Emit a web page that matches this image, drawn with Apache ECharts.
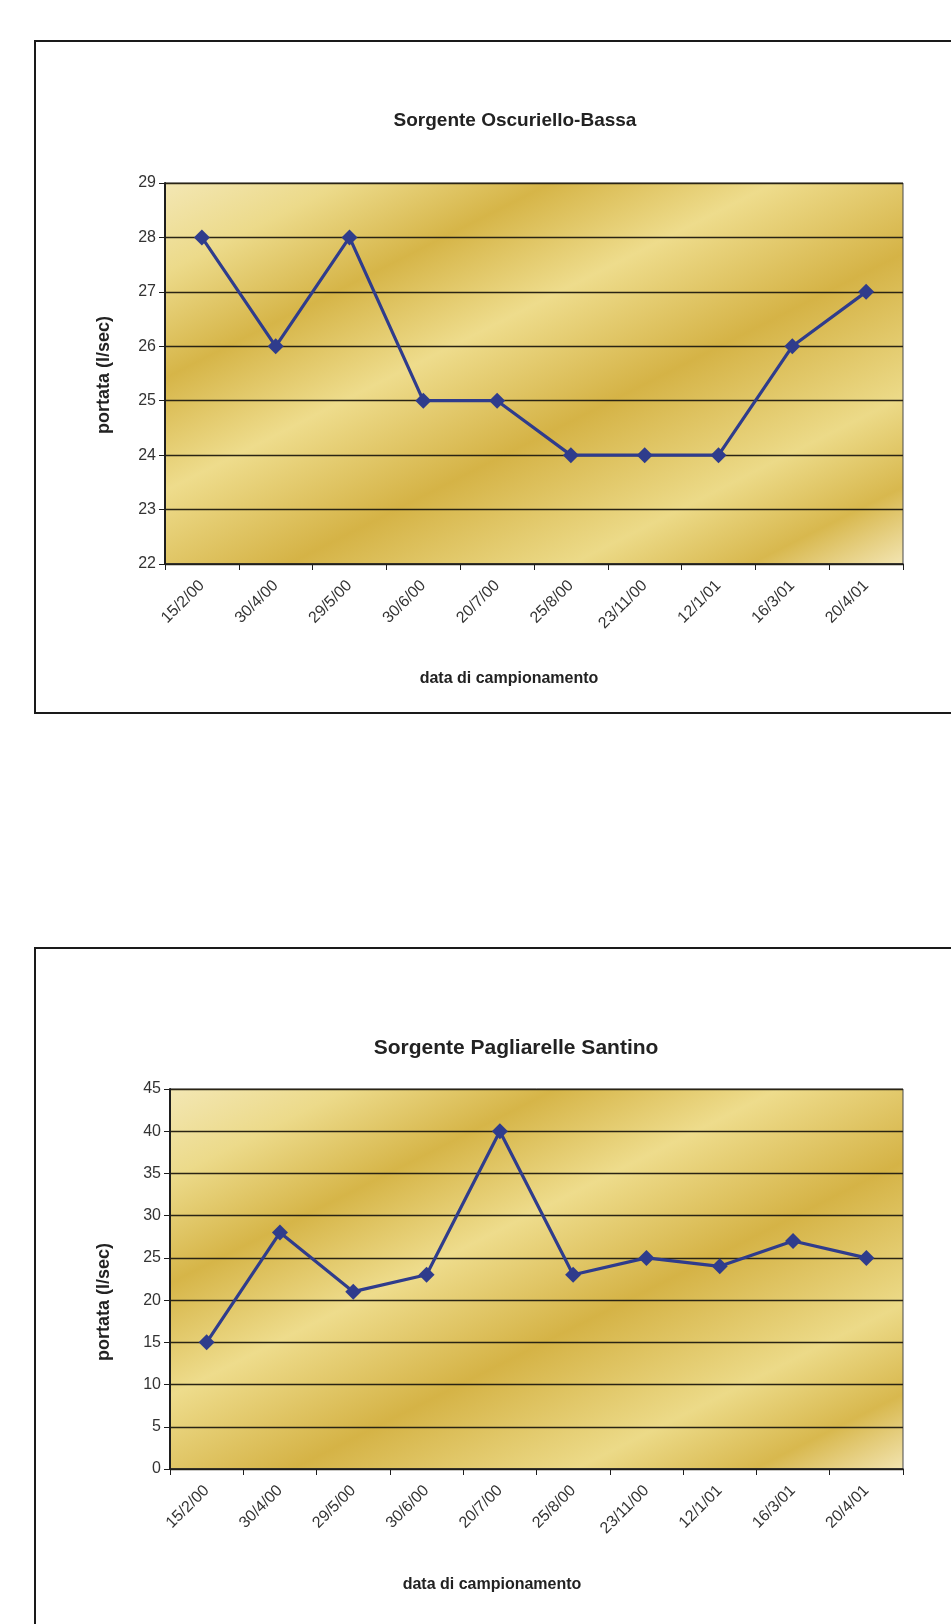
<!DOCTYPE html>
<html>
<head>
<meta charset="utf-8">
<script src="https://cdn.jsdelivr.net/npm/echarts@6/dist/echarts.min.js"></script>
<style>
  html, body { margin: 0; padding: 0; background: #ffffff; }
  #chart { width: 951px; height: 1624px; }
</style>
</head>
<body>
<div id="chart"></div>
<script>
// Sampling dates (shared by both springs)
const dates = ['15/2/00', '30/4/00', '29/5/00', '30/6/00', '20/7/00', '25/8/00', '23/11/00', '12/1/01', '16/3/01', '20/4/01'];

// Discharge, l/sec
const oscurielloBassa = [28, 26, 28, 25, 25, 24, 24, 24, 26, 27];
const pagliarelleSantino = [15, 28, 21, 23, 40, 23, 25, 24, 27, 25];

// Text
const title1 = 'Sorgente Oscuriello-Bassa';
const title2 = 'Sorgente Pagliarelle Santino';
const xTitle = 'data di campionamento';
const yTitle = 'portata (l/sec)';

const FONT = '"Liberation Sans", Arial, sans-serif';
const LINE = '#2F3C8C';

// Diagonal gold bands for the plot area
function goldFill() {
  return {
    type: 'linear', x: 0, y: 0, x2: 0.41, y2: 1.57,
    colorStops: [
      { offset: 0.00, color: '#F3E7B4' },
      { offset: 0.12, color: '#ECDA8A' },
      { offset: 0.26, color: '#D6B548' },
      { offset: 0.41, color: '#EEDC8C' },
      { offset: 0.59, color: '#D5B346' },
      { offset: 0.78, color: '#ECDA88' },
      { offset: 0.90, color: '#D8B84E' },
      { offset: 1.00, color: '#F2E4B0' }
    ]
  };
}

function grid(top, left, height) {
  return {
    left: left, top: top, right: 48, height: height,
    show: true, backgroundColor: goldFill(),
    borderColor: '#4a4a4a', borderWidth: 1
  };
}

function xAxis(gi) {
  return {
    type: 'category', gridIndex: gi, data: dates, boundaryGap: true,
    axisLine: { lineStyle: { color: '#1e1e1e', width: 1.5 } },
    axisTick: { show: true, length: 6, lineStyle: { color: '#1e1e1e' } },
    axisLabel: { rotate: 45, fontSize: 16, color: '#333', fontFamily: FONT, margin: 19 },
    splitLine: { show: false }
  };
}

function yAxis(gi, min, max, step) {
  return {
    type: 'value', gridIndex: gi, min: min, max: max, interval: step,
    axisLine: { show: true, lineStyle: { color: '#1e1e1e', width: 2 } },
    axisTick: { show: true, length: 6, lineStyle: { color: '#1e1e1e' } },
    axisLabel: { fontSize: 16, color: '#333', fontFamily: FONT, margin: 9 },
    splitLine: { show: true, lineStyle: { color: '#2a2414', width: 1.3 } }
  };
}

function lineSeries(gi, values) {
  return {
    type: 'line', xAxisIndex: gi, yAxisIndex: gi, data: values,
    symbol: 'diamond', symbolSize: 16,
    lineStyle: { color: LINE, width: 3.2 },
    itemStyle: { color: LINE },
    animation: false
  };
}

function label(x, y, text, size, rot) {
  return {
    type: 'text', x: x, y: y, rotation: rot || 0,
    style: {
      text: text, font: 'bold ' + size + 'px ' + FONT, fill: '#222',
      align: 'center', verticalAlign: 'middle'
    }
  };
}

const chart = echarts.init(document.getElementById('chart'), null, { renderer: 'canvas' });
chart.setOption({
  animation: false,
  backgroundColor: '#ffffff',
  grid: [grid(183, 165, 381), grid(1089, 170, 380)],
  xAxis: [xAxis(0), xAxis(1)],
  yAxis: [yAxis(0, 22, 29, 1), yAxis(1, 0, 45, 5)],
  series: [lineSeries(0, oscurielloBassa), lineSeries(1, pagliarelleSantino)],
  graphic: [
    // chart frames
    { type: 'rect', shape: { x: 35, y: 41, width: 940, height: 672 },
      style: { fill: 'none', stroke: '#1a1a1a', lineWidth: 2 } },
    { type: 'rect', shape: { x: 35, y: 948, width: 940, height: 700 },
      style: { fill: 'none', stroke: '#1a1a1a', lineWidth: 2 } },
    label(515, 121, title1, 19),
    label(516, 1048, title2, 21),
    label(509, 679, xTitle, 16),
    label(492, 1585, xTitle, 16),
    label(104, 375, yTitle, 18, Math.PI / 2),
    label(104, 1302, yTitle, 18, Math.PI / 2)
  ]
});
</script>
</body>
</html>
